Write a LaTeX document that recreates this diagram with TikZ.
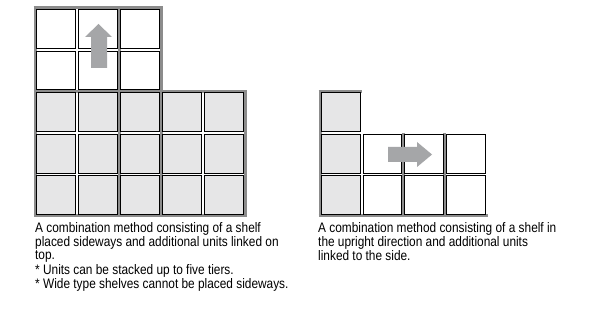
\documentclass[tikz,border=0pt]{standalone}
\usepackage{fontspec}
\setmainfont{Liberation Sans}[FakeStretch=0.86]
\definecolor{cellgray}{HTML}{E6E6E7}
\definecolor{panelgray}{HTML}{8C8C8C}
\definecolor{arrowgray}{HTML}{A5A6A8}
\begin{document}
\begin{tikzpicture}[x=1pt,y=-1pt,
  cellbox/.style={draw=black,line width=0.8pt,inner sep=0pt,outer sep=0pt,
    minimum width=39.2pt,minimum height=38.8pt},
  lowcell/.style={cellbox,fill=cellgray},
  upcell/.style={cellbox,fill=white},
  panel/.style={draw=panelgray,line width=3pt},
  movearrow/.style={fill=arrowgray},
  caption/.style={anchor=base west,inner sep=0pt,font=\fontsize{13.8}{15}\selectfont}]
\useasboundingbox (0,0) rectangle (605,320);
% panels (behind the cells)
\draw[panel] (35,8) -- (35,216);
\draw[panel] (119,8) -- (119,216);
\draw[panel] (161,8) -- (161,216);
\draw[panel] (245,91.2) -- (245,216);
\draw[panel] (33.5,8) -- (162.5,8);
\draw[panel] (33.5,91.2) -- (246.5,91.2);
\draw[panel] (33.5,216) -- (246.5,216);
\draw[panel] (320,91.2) -- (320,216);
\draw[panel] (318.5,91.2) -- (361.6,91.2);
\draw[panel] (403.2,132.8) -- (403.2,216);
\draw[panel] (444.8,132.8) -- (444.8,216);
\draw[panel] (318.5,216) -- (488,216);
% left figure: upper units (white)
\foreach \c in {1,2,3}{
  \foreach \r in {1,2}{
    \node[upcell] (u\c\r) at ({35+42*(\c-0.5)},{8+41.6*(\r-0.5)}) {};
  }
}
% left figure: lower shelf (gray)
\foreach \c in {1,...,5}{
  \foreach \r in {1,2,3}{
    \node[lowcell] (l\c\r) at ({35+42*(\c-0.5)},{91.2+41.6*(\r-0.5)}) {};
  }
}
% right figure: upright shelf (gray)
\foreach \r in {1,2,3}{
  \node[lowcell] (v\r) at (340.8,{91.2+41.6*(\r-0.5)}) {};
}
% right figure: side units (white)
\foreach \c in {1,2,3}{
  \foreach \r in {1,2}{
    \node[upcell,minimum width=38.8pt] (s\c\r) at ({361.6+41.6*(\c-0.5)},{132.8+41.6*(\r-0.5)}) {};
  }
}
% arrows
\fill[movearrow] (91,68) -- (91,37) -- (85,37) -- (98.5,24) -- (112,37) -- (107,37) -- (107,68) -- cycle;
\fill[movearrow] (388,147) -- (417,147) -- (417,142) -- (432,154.5) -- (417,167) -- (417,162) -- (388,162) -- cycle;
% captions
\node[caption] (t1) at (35,233) {A combination method consisting of a shelf};
\node[caption] (t2) at (35,246.5) {placed sideways and additional units linked on};
\node[caption] (t3) at (35,260) {top.};
\node[caption] (t4) at (35,274.5) {* Units can be stacked up to five tiers.};
\node[caption] (t5) at (35,289) {* Wide type shelves cannot be placed sideways.};
\node[caption] (r1) at (318,233) {A combination method consisting of a shelf in};
\node[caption] (r2) at (318,247) {the upright direction and additional units};
\node[caption] (r3) at (318,261) {linked to the side.};
\end{tikzpicture}
\end{document}
